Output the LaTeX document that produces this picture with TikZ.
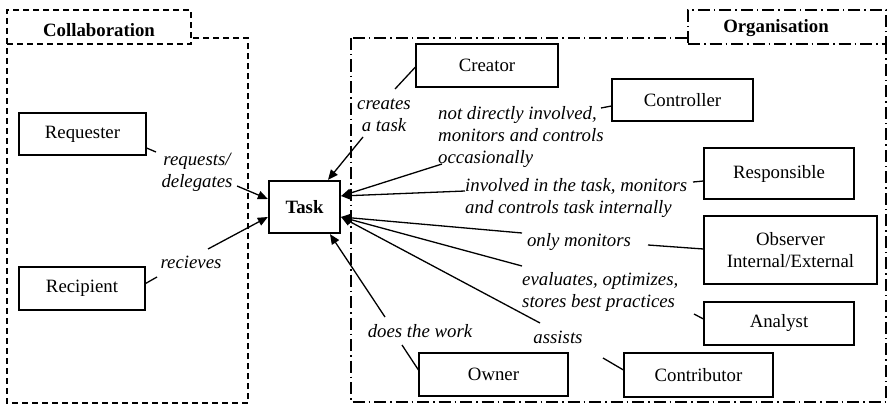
\documentclass[tikz,border=0pt]{standalone}
\usepackage{fontspec}
\setmainfont{Liberation Serif}
\usetikzlibrary{arrows.meta,calc}
\begin{document}
\begin{tikzpicture}[x=1pt,y=-1pt,
  font=\fontsize{18.8}{22.5}\selectfont,
  box/.style={draw, line width=1.1pt, inner sep=0pt, align=center},
  lbl/.style={font=\fontsize{18.8}{22}\selectfont\itshape, inner sep=0pt},
  conn/.style={line width=1.3pt},
  arr/.style={line width=1.3pt, -{Triangle[length=10pt,width=8.5pt]}},
  collab/.style={line width=1.5pt, dash pattern=on 6pt off 4pt},
  orga/.style={line width=1.5pt, dash pattern=on 12pt off 4pt on 1.5pt off 4pt},
  tag/.style={fill=white, inner sep=0pt, font=\fontsize{18.8}{22.5}\selectfont\bfseries}
]
\useasboundingbox (0,0) rectangle (888,404);

% frames
\draw[collab] (7,38) rectangle (248,403);
\draw[orga] (351,38) rectangle (886,402);
\node[tag, collab, draw, minimum width=184pt, minimum height=34pt, text height=20pt, text depth=0pt] (collabtag) at (99,27) {Collaboration};
\node[tag, orga, draw, minimum width=198pt, minimum height=34pt, text height=12pt, text depth=0pt, xshift=0pt] (orgtag) at (787,27) {\makebox[0pt]{\hspace*{-22pt}Organisation}};

% boxes
\node[box, minimum width=127pt, minimum height=42pt] (Requester) at (82.5,134) {Requester};
\node[box, minimum width=126pt, minimum height=43pt] (Recipient) at (82,288.5) {Recipient};
\node[box, line width=2.3pt, minimum width=71pt, minimum height=52pt, font=\fontsize{18.8}{22.5}\selectfont\bfseries] (Task) at (304.5,207) {Task};
\node[box, minimum width=142pt, minimum height=43pt] (Creator) at (487,65.5) {Creator};
\node[box, minimum width=141pt, minimum height=42pt] (Controller) at (682.5,100) {Controller};
\node[box, minimum width=150pt, minimum height=51pt] (Responsible) at (779,173.5) {Responsible};
\node[box, minimum width=173pt, minimum height=68pt] (Observer) at (790.5,250) {Observer\\Internal/External};
\node[box, minimum width=150pt, minimum height=43pt] (Analyst) at (779,323.5) {Analyst};
\node[box, minimum width=149pt, minimum height=44pt] (Contributor) at (698.5,375) {Contributor};
\node[box, minimum width=149pt, minimum height=43pt] (Owner) at (493.5,374.5) {Owner};

% labels
\node[lbl, align=center] (reqlbl) at (197,172) {requests/\\delegates};
\node[lbl] (reclbl) at (191,262) {recieves};
\node[lbl, align=center] (crelbl) at (384,115) {creates\\a task};
\node[lbl, align=left, anchor=west] (ctrlbl) at (438,137) {not directly involved,\\monitors and controls\\occasionally};
\node[lbl, align=left, anchor=west] (reslbl) at (465,198) {involved in the task, monitors\\and controls task internally};
\node[lbl] (obslbl) at (579,242) {only monitors};
\node[lbl, align=left, anchor=west] (analbl) at (522,292) {evaluates, optimizes,\\stores best practices};
\node[lbl] (conlbl) at (558,337) {assists};
\node[lbl] (ownlbl) at (420,331) {does the work};

% connector bend points near the labels
\coordinate (reqA) at (156,152);   \coordinate (reqB) at (237,186);
\coordinate (recA) at (157,277);   \coordinate (recB) at (208,249);
\coordinate (creA) at (395,89);    \coordinate (creB) at (363,137);
\coordinate (ctrA) at (601,108);   \coordinate (ctrB) at (442,164);
\coordinate (resA) at (693,182);   \coordinate (resB) at (465,191);
\coordinate (obsA) at (648,245);   \coordinate (obsB) at (522,233);
\coordinate (anaA) at (694,314);   \coordinate (anaB) at (522,266);
\coordinate (conA) at (603,358);   \coordinate (conB) at (540,323);
\coordinate (ownA) at (402,345);   \coordinate (ownB) at (385,317);

% connectors
\draw[conn] ($(Requester.east)+(0,14)$) -- (reqA);
\draw[arr] (reqB) -- ($(Task.west)+(0,-8)$);
\draw[conn] ($(Recipient.east)+(0,-5)$) -- (recA);
\draw[arr] (recB) -- ($(Task.west)+(0,10)$);
\draw[conn] ($(Creator.west)+(0,1.5)$) -- (creA);
\draw[arr] (creB) -- ($(Task.north)+(23.5,0)$);
\draw[conn] ($(Controller.west)+(0,6)$) -- (ctrA);
\draw[arr] (ctrB) -- ($(Task.east)+(0,-11)$);
\draw[conn] ($(Responsible.west)+(0,7.5)$) -- (resA);
\draw[arr] (resB) -- ($(Task.east)+(0,-11)$);
\draw[conn] ($(Observer.west)+(0,-1)$) -- (obsA);
\draw[arr] (obsB) -- ($(Task.east)+(0,10)$);
\draw[conn] ($(Analyst.west)+(0,-4.5)$) -- (anaA);
\draw[arr] (anaB) -- ($(Task.east)+(0,10)$);
\draw[conn] ($(Contributor.west)+(0,-5)$) -- (conA);
\draw[arr] (conB) -- ($(Task.east)+(0,10)$);
\draw[conn] ($(Owner.west)+(0,-4.5)$) -- (ownA);
\draw[arr] (ownB) -- ($(Task.south)+(25.5,0)$);
\end{tikzpicture}
\end{document}
